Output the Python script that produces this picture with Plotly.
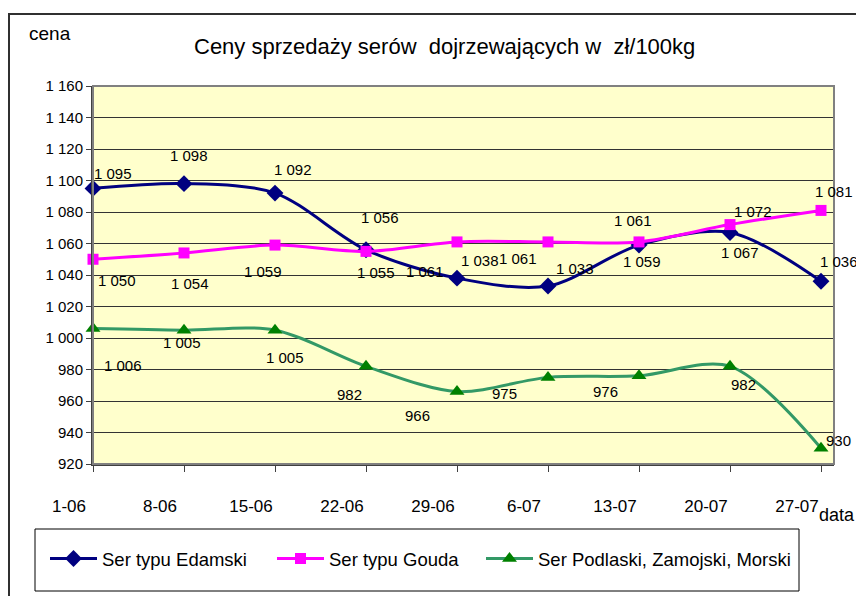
import plotly.graph_objects as go

# ---------------- data ----------------
categories = ["1-06", "8-06", "15-06", "22-06", "29-06", "6-07", "13-07", "20-07", "27-07"]
edamski = [1095, 1098, 1092, 1056, 1038, 1033, 1059, 1067, 1036]
gouda = [1050, 1054, 1059, 1055, 1061, 1061, 1061, 1072, 1081]
podlaski = [1006, 1005, 1005, 982, 966, 975, 976, 982, 930]
series_names = ["Ser typu Edamski", "Ser typu Gouda", "Ser Podlaski, Zamojski, Morski"]
y_ticks = [920, 940, 960, 980, 1000, 1020, 1040, 1060, 1080, 1100, 1120, 1140, 1160]

# ---------------- styling ----------------
FONT = "Liberation Sans, Arial, sans-serif"
PAGE_OFF = 8                     # default body margin of the html page
W, H = 864 - PAGE_OFF, 596 - PAGE_OFF
PX0, PX1, PY0, PY1 = 93, 834, 86, 464   # plot area in screen pixels
L, R, T, B = PX0 - PAGE_OFF, W - (PX1 - PAGE_OFF), PY0 - PAGE_OFF, H - (PY1 - PAGE_OFF)
pw, ph = PX1 - PX0, PY1 - PY0

# data label pixel offsets (dx right, dy down) per point
off_e = [(20, -15), (5, -28), (18, -24), (14, -32), (23, -18), (27, -18), (3, 16), (10, 20), (18, -20)]
off_g = [(24, 21), (6, 31), (-12, 26), (10, 21), (-32, 30), (-30, 17), (-6, -21), (23, -13), (13, -19)]
off_p = [(30, 37), (-2, 12), (10, 27), (-17, 28), (-40, 24), (-44, 16), (-34, 16), (13, 18), (17, -8)]
legend_x_px = [45, 272, 481]     # screen x where each legend entry starts


def fmt(v):
    return f"{v:,}".replace(",", " ")


def px_x(p):
    return (p - PX0) / pw


def px_y(p):
    return (PY1 - p) / ph


fig = go.Figure()

styles = [
    dict(values=edamski, line="#000080", mcolor="#000080", symbol="diamond", size=13, offs=off_e),
    dict(values=gouda, line="#FF00FF", mcolor="#FF00FF", symbol="square", size=11, offs=off_g),
    dict(values=podlaski, line="#339966", mcolor="#008000", symbol="triangle-up", size=13, offs=off_p),
]
legend_ids = ["legend", "legend2", "legend3"]

annotations = []
for name, st, lid in zip(series_names, styles, legend_ids):
    fig.add_trace(go.Scatter(
        x=categories, y=st["values"], name=name, mode="lines+markers",
        line=dict(color=st["line"], width=3, shape="spline", smoothing=0.9),
        marker=dict(symbol=st["symbol"], size=st["size"], color=st["mcolor"],
                    line=dict(width=0)),
        cliponaxis=False, legend=lid,
    ))
    for c, v, (dx, dy) in zip(categories, st["values"], st["offs"]):
        annotations.append(dict(
            x=c, y=v, xref="x", yref="y", text=fmt(v), showarrow=False,
            xanchor="center", yanchor="middle",
            xshift=dx, yshift=-dy, font=dict(family=FONT, size=15, color="black"),
        ))

# axis captions and title
for txt, sx, sy, size in [("cena", 50, 34, 19), ("data", 837, 515, 18),
                          ("Ceny sprzedaży serów  dojrzewających w  zł/100kg", 444, 47, 22)]:
    annotations.append(dict(x=px_x(sx), y=px_y(sy), xref="paper", yref="paper", text=txt,
                            showarrow=False, xanchor="center", yanchor="middle",
                            font=dict(family=FONT, size=size, color="black")))

shapes = [
    # outer chart border
    dict(type="rect", xref="paper", yref="paper", x0=px_x(9), x1=px_x(900), y0=px_y(640), y1=px_y(14),
         line=dict(color="#303030", width=2), layer="below"),
    # plot area border (gray top/right)
    dict(type="rect", xref="paper", yref="paper", x0=0, x1=1, y0=0, y1=1,
         line=dict(color="#808080", width=2), layer="above"),
    # legend box
    dict(type="rect", xref="paper", yref="paper", x0=px_x(35), x1=px_x(799), y0=px_y(591), y1=px_y(529),
         line=dict(color="#000000", width=1), layer="below"),
]


def legend_cfg(px):
    return dict(orientation="h", x=px_x(px), y=px_y(559), xanchor="left", yanchor="middle",
                font=dict(family=FONT, size=18.5, color="black"), bgcolor="rgba(0,0,0,0)",
                itemwidth=47, tracegroupgap=0, borderwidth=0)


fig.update_layout(
    width=W, height=H,
    margin=dict(l=L, r=R, t=T, b=B, pad=0),
    paper_bgcolor="white", plot_bgcolor="#FFFFCC",
    font=dict(family=FONT, color="black"),
    showlegend=True,
    legend=legend_cfg(legend_x_px[0]),
    legend2=legend_cfg(legend_x_px[1]),
    legend3=legend_cfg(legend_x_px[2]),
    annotations=annotations,
    shapes=shapes,
)

fig.update_xaxes(
    type="category", categoryorder="array", categoryarray=categories,
    range=[0, 8 + 13 / 91], showgrid=False, zeroline=False,
    showline=True, linecolor="#404040", linewidth=2,
    ticks="outside", ticklen=6, tickcolor="#404040", tickwidth=1,
    tickfont=dict(family=FONT, size=17, color="black"),
    ticklabelshift=-24, ticklabelstandoff=20,
)
fig.update_yaxes(
    range=[920, 1160], tickvals=y_ticks, ticktext=[fmt(v) for v in y_ticks],
    showgrid=True, gridcolor="#333333", gridwidth=1, zeroline=False,
    showline=True, linecolor="#404040", linewidth=2,
    ticks="outside", ticklen=5, tickcolor="#404040", tickwidth=1,
    tickfont=dict(family=FONT, size=15, color="black"),
)

fig.write_html("out.html")
